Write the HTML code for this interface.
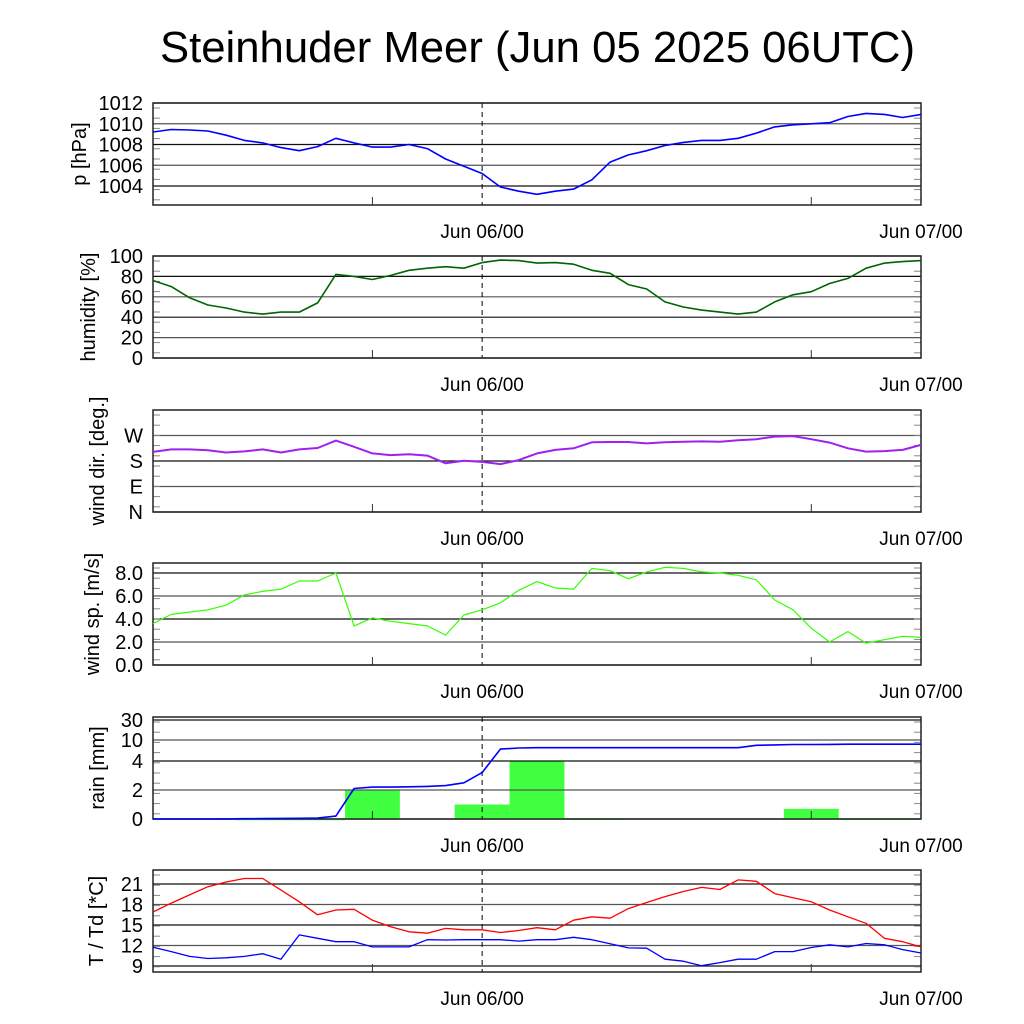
<!DOCTYPE html>
<html><head><meta charset="utf-8"><style>
html,body{margin:0;padding:0;background:#fff;}
svg{display:block;font-family:"Liberation Sans",sans-serif;}
</style></head><body>
<svg id="chart" width="1024" height="1024" viewBox="0 0 1024 1024" xmlns="http://www.w3.org/2000/svg">
<text x="160" y="62" font-size="44" textLength="755" lengthAdjust="spacingAndGlyphs">Steinhuder Meer (Jun 05 2025 06UTC)</text>
</svg>
<script>
// hours since Jun 05 06UTC, hourly 0..42
const hours = [0,1,2,3,4,5,6,7,8,9,10,11,12,13,14,15,16,17,18,19,20,21,22,23,24,25,26,27,28,29,30,31,32,33,34,35,36,37,38,39,40,41,42];
const pressure = [1009.2,1009.45,1009.4,1009.3,1008.9,1008.4,1008.15,1007.7,1007.4,1007.8,1008.6,1008.15,1007.75,1007.75,1008.0,1007.6,1006.6,1005.9,1005.2,1003.9,1003.5,1003.2,1003.5,1003.7,1004.6,1006.3,1007.0,1007.4,1007.9,1008.2,1008.4,1008.4,1008.6,1009.1,1009.7,1009.9,1010.0,1010.1,1010.7,1011.0,1010.9,1010.6,1010.9];
const humidity = [76,70,59,52,49,45,43,45,45,54,82,80,77,81,86,88,89.5,88,93.5,96,95.5,93,93.5,92,86,83,72,67.6,55,50,47,45,43,45,55,62,65,73,78,88,93,94.5,95.5];
const windDir = [212,221,221,218,210,214,221,210,221,226,252,230,207,201,204,199,172,181,177,169,183,207,219,225,246,247,247,242,246,248,249,248,253,257,266,268,257,245,225,213,215,219,237];
const windSpeed = [3.6,4.4,4.6,4.8,5.2,6.1,6.4,6.6,7.3,7.3,8.0,3.4,4.1,3.8,3.6,3.4,2.6,4.35,4.8,5.4,6.5,7.25,6.7,6.6,8.4,8.2,7.5,8.1,8.5,8.4,8.1,8.0,7.8,7.4,5.65,4.8,3.2,2.0,2.9,1.9,2.2,2.5,2.4];
const rainCum = [0,0,0,0,0.01,0.02,0.03,0.04,0.05,0.06,0.2,2.1,2.2,2.2,2.22,2.25,2.3,2.5,3.2,7.4,7.7,7.8,7.8,7.8,7.8,7.8,7.8,7.8,7.8,7.8,7.8,7.8,7.8,8.5,8.6,8.7,8.7,8.75,8.8,8.8,8.8,8.8,8.8];
const rainBarHours = [6,9,12,18,21,24,36,39,42];
const rainBarValues = [0.02,0.02,2.0,1.0,4.0,0.05,0.7,0.05,0.05];
const temperature = [16.9,18.2,19.4,20.6,21.3,21.8,21.8,20.1,18.4,16.5,17.2,17.3,15.7,14.75,14.0,13.8,14.5,14.3,14.3,13.9,14.2,14.6,14.3,15.7,16.2,16.0,17.4,18.3,19.15,19.9,20.5,20.2,21.6,21.4,19.6,19.0,18.4,17.2,16.2,15.25,13.05,12.55,11.8];
const dewpoint = [11.75,11.1,10.4,10.1,10.2,10.4,10.8,10.0,13.55,13.05,12.55,12.55,11.8,11.8,11.8,12.85,12.8,12.85,12.85,12.85,12.65,12.85,12.85,13.2,12.85,12.25,11.65,11.6,10.0,9.7,9.05,9.5,10.0,10.0,11.1,11.1,11.7,12.1,11.8,12.3,12.1,11.4,10.9];
const pTicks = [1004,1006,1008,1010,1012];
const hTicks = [0,20,40,60,80,100];
const dirTicks = [0,90,180,270];
const dirLabels = ['N','E','S','W'];
const wsTicks = [0,2,4,6,8];
const rainTicks = [0,2,4,10,30];
const tTicks = [9,12,15,18,21];

const svg = document.getElementById('chart');
const NS = 'http://www.w3.org/2000/svg';
const X0 = 153, X1 = 921, HMAX = 42;
function xs(h){ return X0 + (h / HMAX) * (X1 - X0); }
function mk(tag, attrs, parent){ const e = document.createElementNS(NS, tag); for (const k in attrs) e.setAttribute(k, attrs[k]); (parent||svg).appendChild(e); return e; }
function linScale(v0, v1, y0, y1){ return v => y0 + (v - v0) / (v1 - v0) * (y1 - y0); }
function rainScale(v){ const vs=[0,2,4,10,30], ys=[819,790,761,740,720];
  if (v<=0) return 819; for(let i=1;i<vs.length;i++){ if(v<=vs[i]) return ys[i-1]+(v-vs[i-1])/(vs[i]-vs[i-1])*(ys[i]-ys[i-1]); } return 720; }

function panel(name, top, bottom, ysc, ticks, labels, title, titleX){
  const g = mk('g', {});
  
  
  ticks.forEach((t, i) => {
    const y = ysc(t);
    const gl = mk('line', {x1:X0, x2:X1, y1:y, y2:y, stroke:(i%2?'#555':'#111'), 'stroke-width':1.2}, g);
    
    
    const tl = mk('text', {x:143, y:y+7, 'font-size':20, 'text-anchor':'end'}, g);
    
    
    tl.textContent = labels[i];
  });
  // minor ticks left/right
  for (let y = top + 5; y < bottom; y += 10.2) {
    mk('line', {x1:X0, x2:X0+7, y1:y, y2:y, stroke:'#888'}, g);
    mk('line', {x1:X1-7, x2:X1, y1:y, y2:y, stroke:'#888'}, g);
  }
  [12, 36].forEach(h => { mk('line', {x1:xs(h), x2:xs(h), y1:bottom, y2:bottom-8, stroke:'#333'}, g); });
  const dl = mk('line', {x1:xs(18), x2:xs(18), y1:top, y2:bottom, stroke:'#000', 'stroke-dasharray':'5,4'}, g);
  
  
  const fr = mk('rect', {x:X0, y:top, width:X1-X0, height:bottom-top, fill:'none', stroke:'#222', 'stroke-width':1.5}, g);
  
  
  const ty = (top + bottom) / 2;
  const at = mk('text', {x:0, y:0, 'font-size':20, 'text-anchor':'middle', transform:'translate('+titleX+','+ty+') rotate(-90)'}, g);
  
  
  at.textContent = title;
  [['Jun 06/00', 18], ['Jun 07/00', 42]].forEach(d => {
    const t = mk('text', {x:xs(d[1]), y:bottom+33, 'font-size':19, 'text-anchor':'middle'}, g);
    
    
    t.textContent = d[0];
  });
  return g;
}
function series(g, vals, ysc, color, w, name){
  const d = vals.map((v, i) => (i ? 'L' : 'M') + xs(hours[i]).toFixed(1) + ',' + ysc(v).toFixed(1)).join(' ');
  const p = mk('path', {d:d, fill:'none', stroke:color, 'stroke-width':w, 'stroke-linejoin':'round'}, g);
  
  
}

const pY = linScale(1012, 1004, 103, 186);
const g1 = panel('pressure', 103, 205, pY, pTicks, pTicks.map(String), 'p [hPa]', 86);
series(g1, pressure, pY, '#0000ff', 1.6, 'pressure-line');

const hY = linScale(100, 0, 256, 358);
const g2 = panel('humidity', 256, 358, hY, hTicks, hTicks.map(String), 'humidity [%]', 95);
series(g2, humidity, hY, '#006400', 1.6, 'humidity-line');

const dY = linScale(0, 360, 512, 410);
const g3 = panel('wind-dir', 410, 512, dY, dirTicks, dirLabels, 'wind dir. [deg.]', 104);
series(g3, windDir, dY, '#a020f0', 2, 'wind-direction-line');

const wY = linScale(8, 0, 573, 665);
const g4 = panel('wind-speed', 563, 665, wY, wsTicks, wsTicks.map(v => v.toFixed(1)), 'wind sp. [m/s]', 99);
series(g4, windSpeed, wY, '#33ff00', 1.2, 'wind-speed-line');

const g5 = panel('rain', 717, 819, rainScale, rainTicks, rainTicks.map(String), 'rain [mm]', 104);
rainBarValues.forEach((v, i) => {
  const h = rainBarHours[i];
  const xa = xs(Math.max(0, h - 1.5)), xb = xs(Math.min(HMAX, h + 1.5));
  const y = rainScale(v);
  const r = mk('rect', {x:xa, y:y, width:xb-xa, height:Math.max(1.5, 819-y), fill:'#40ff40'}, g5);
  
  
  g5.insertBefore(r, g5.firstChild.nextSibling);
});
series(g5, rainCum, rainScale, '#0000ff', 1.6, 'rain-cumulative-line');

const tY = linScale(21, 9, 884, 966);
const g6 = panel('temperature', 870, 972, tY, tTicks, tTicks.map(String), 'T / Td [*C]', 103);
series(g6, temperature, tY, '#ff0000', 1.3, 'temperature-line');
series(g6, dewpoint, tY, '#0000ff', 1.3, 'dewpoint-line');
</script>
</body></html>
